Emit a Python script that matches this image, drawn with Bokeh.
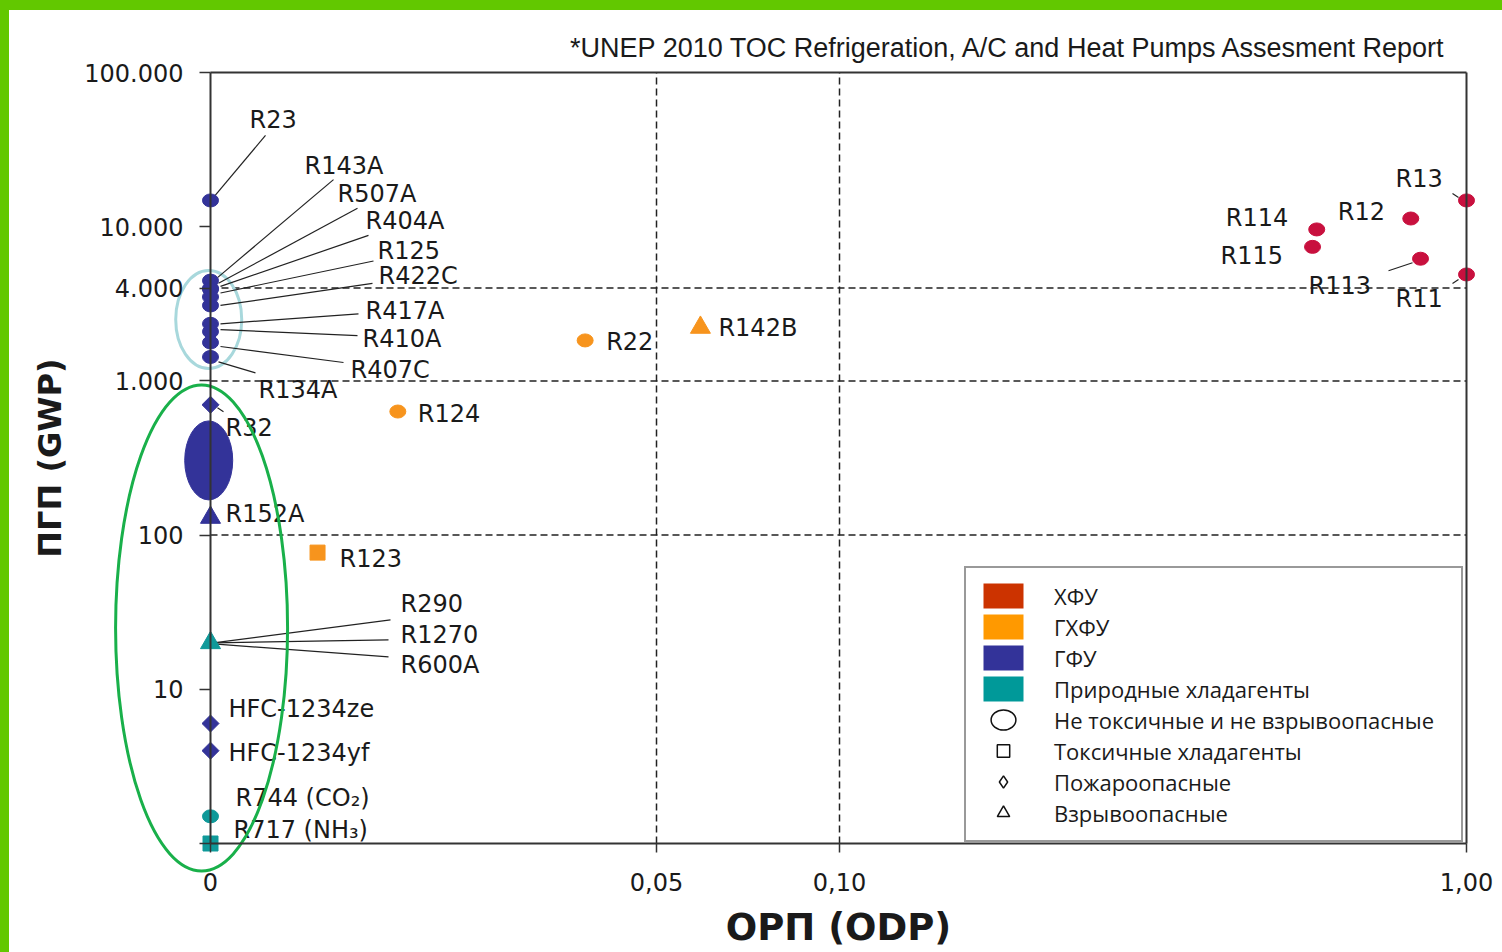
import numpy as np
import pandas as pd
from bokeh.plotting import figure
from bokeh.models import (ColumnDataSource, Range1d, FixedTicker, CustomJSTickFormatter,
                          LinearAxis, LogAxis, Legend, LegendItem, GlobalInlineStyleSheet)
from bokeh.core.properties import value
from bokeh.embed import file_html
from bokeh.resources import INLINE

# ---------------------------------------------------------------- data
NAMES = ["R23", "R143A", "R507A", "R404A", "R125", "R422C", "R417A", "R410A", "R407C", "R134A",
         "R32", "R152A", "HFC-1234ze", "HFC-1234yf",
         "R290/R1270/R600A", "R744", "R717",
         "R22", "R142B", "R124", "R123",
         "R13", "R12", "R114", "R115", "R113", "R11"]
ODP = [0, 0, 0, 0, 0, 0, 0, 0, 0, 0,
       0, 0, 0, 0,
       0, 0, 0,
       0.042, 0.062, 0.021, 0.012,
       1.0, 0.92, 0.785, 0.779, 0.934, 1.0]
GWP = [14800, 4470, 3985, 3922, 3500, 3085, 2346, 2088, 1774, 1430,
       700, 130, 6, 4,
       20, 1.5, 1,
       1830, 2220, 633, 77,
       14800, 11300, 9600, 7400, 6200, 4900]
GROUP = ["ГФУ", "ГФУ", "ГФУ", "ГФУ", "ГФУ", "ГФУ", "ГФУ", "ГФУ", "ГФУ", "ГФУ",
         "ГФУ", "ГФУ", "ГФУ", "ГФУ",
         "Природные хладагенты", "Природные хладагенты", "Природные хладагенты",
         "ГХФУ", "ГХФУ", "ГХФУ", "ГХФУ",
         "ХФУ", "ХФУ", "ХФУ", "ХФУ", "ХФУ", "ХФУ"]
HAZARD = ["circle", "circle", "circle", "circle", "circle", "circle", "circle", "circle", "circle", "circle",
          "diamond", "triangle", "diamond", "diamond",
          "triangle", "circle", "square",
          "circle", "triangle", "circle", "square",
          "circle", "circle", "circle", "circle", "circle", "circle"]

# HFC blends blob and highlight ellipses (ODP, GWP of centre)
BLOB_ODP, BLOB_GWP = [-0.0002], [305]
HL_BLUE_ODP, HL_BLUE_GWP = [-0.0002], [2500]
HL_GREEN_ODP, HL_GREEN_GWP = [-0.001], [25]

LEGEND_GROUPS = ["ХФУ", "ГХФУ", "ГФУ", "Природные хладагенты"]
LEGEND_HAZARDS = ["Не токсичные и не взрывоопасные", "Токсичные хладагенты",
                  "Пожароопасные", "Взрывоопасные"]

X_TICKS = [0, 0.05, 0.10, 1.00]
X_TICK_LABELS = ["0", "0,05", "0,10", "1,00"]
Y_TICKS = [1, 10, 100, 1000, 4000, 10000, 100000]
Y_TICK_LABELS = ["", "10", "100", "1.000", "4.000", "10.000", "100.000"]
GRID_X = [0.05, 0.10]
GRID_Y = [100, 1000, 4000]

# labels: text, refrigerant it belongs to
LABEL_TEXT = ["R23", "R143A", "R507A", "R404A", "R125", "R422C", "R417A", "R410A", "R407C", "R134A",
              "R32", "R152A", "HFC-1234ze", "HFC-1234yf",
              "R290", "R1270", "R600A", "R744 (CO₂)", "R717 (NH₃)",
              "R22", "R142B", "R124", "R123",
              "R13", "R12", "R114", "R115", "R113", "R11"]
LABEL_OF = ["R23", "R143A", "R507A", "R404A", "R125", "R422C", "R417A", "R410A", "R407C", "R134A",
            "R32", "R152A", "HFC-1234ze", "HFC-1234yf",
            "R290/R1270/R600A", "R290/R1270/R600A", "R290/R1270/R600A", "R744", "R717",
            "R22", "R142B", "R124", "R123",
            "R13", "R12", "R114", "R115", "R113", "R11"]

# ---------------------------------------------------------------- styling / layout
# label placement (screen px offsets from the marker: left edge, vertical centre)
LABEL_OFFSET = {
    "R23": (39, -80), "R143A": (94, -115), "R507A": (127, -94), "R404A": (155, -68),
    "R125": (167, -46), "R422C": (168, -29), "R417A": (155, -13), "R410A": (152, 7),
    "R407C": (140, 27), "R134A": (48, 33), "R32": (15, 23), "R152A": (15, -4),
    "HFC-1234ze": (18, -15), "HFC-1234yf": (18, 2),
    "R290": (190, -39), "R1270": (190, -8), "R600A": (190, 22),
    "R744 (CO₂)": (25, -18), "R717 (NH₃)": (23, -14),
    "R22": (21, 2), "R142B": (18, 1), "R124": (20, 2), "R123": (22, 6),
    "R13": (-71, -21), "R12": (-73, -7), "R114": (-91, -11), "R115": (-92, 9),
    "R113": (-112, 27), "R11": (-71, 25),
}
# leader lines (screen px offsets from the marker: start, end)
LEADERS = {
    "R23": (3, -3, 55, -65), "R143A": (7, -3, 123, -101), "R507A": (8, -5, 147, -80),
    "R404A": (10, -3, 158, -54), "R125": (10, -4, 163, -36), "R422C": (10, 0, 162, -22),
    "R417A": (10, 0, 148, -10), "R410A": (10, -2, 147, 4), "R407C": (10, 4, 133, 20),
    "R134A": (8, 5, 45, 16), "R32": (7, 3, 13, 7),
    "R290": (3, 0, 180, -23), "R1270": (3, 0, 178, -3), "R600A": (3, 1, 178, 14),
    "R13": (-14, -7, -8, -3), "R113": (-32, 12, -8, 4), "R11": (-14, 9, -8, 5),
}

POINT_COLORS = {"ХФУ": "#c8103e", "ГХФУ": "#f7941d", "ГФУ": "#333399", "Природные хладагенты": "#0f9999"}
LEGEND_COLORS = {"ХФУ": "#cc3300", "ГХФУ": "#ff9900", "ГФУ": "#333399", "Природные хладагенты": "#009999"}

FIG_W, FIG_H = 1493, 942
FRAME_L, FRAME_R, FRAME_T, FRAME_B = 0, 1487, 46, 942
AXIS_X0_PX, AXIS_X1_PX = 201, 1457
AXIS_YLO_PX, AXIS_YHI_PX = 833, 62
PX_PER_X = AXIS_X1_PX - AXIS_X0_PX
PX_PER_DEC = (AXIS_YLO_PX - AXIS_YHI_PX) / 5.0
X_TICK_POS = [0.0, 0.3551, 0.5008, 1.0]   # broken ODP scale: position of each tick on the axis
LEGEND_BOX = (955, 110)                    # legend bottom-left, px from the frame's bottom-left


def odp_to_pos(v):
    v = np.asarray(v, dtype=float)
    out = np.interp(v, X_TICKS, X_TICK_POS)
    low = v < X_TICKS[0]
    slope = (X_TICK_POS[1] - X_TICK_POS[0]) / (X_TICKS[1] - X_TICKS[0])
    return np.where(low, X_TICK_POS[0] + (v - X_TICKS[0]) * slope, out)


def shift(xp, yv, dx, dy):
    return xp + dx / PX_PER_X, yv * 10 ** (-dy / PX_PER_DEC)


LABEL_FONT = value("DejaVu Sans")
TXT = "#1a1a1a"

p = figure(width=FIG_W, height=FIG_H, y_axis_type="log",
           x_range=Range1d((FRAME_L - AXIS_X0_PX) / PX_PER_X, 1 + (FRAME_R - AXIS_X1_PX) / PX_PER_X),
           y_range=Range1d(10 ** (-(FRAME_B - AXIS_YLO_PX) / PX_PER_DEC),
                           10 ** (5 + (AXIS_YHI_PX - FRAME_T) / PX_PER_DEC)),
           output_backend="svg", toolbar_location=None,
           min_border_left=FRAME_L, min_border_right=FIG_W - FRAME_R,
           min_border_top=FRAME_T, min_border_bottom=FIG_H - FRAME_B)
p.stylesheets = [GlobalInlineStyleSheet(css=(
    "html,body{margin:0;padding:0;background:#ffffff;}"
    "body{border-top:10px solid #62c800;border-left:9px solid #62c800;}"))]
p.outline_line_color = None
p.xgrid.visible = False
p.ygrid.visible = False
p.background_fill_color = "white"
p.border_fill_color = "white"

fmt_code = """
for (let i = 0; i < tv.length; i++) {
  if (Math.abs(tv[i] - tick) <= 1e-9 + 1e-6 * Math.abs(tv[i])) return tl[i];
}
return "";
"""

# x axis (drawn at GWP = 1)
xa = p.xaxis[0]
xa.fixed_location = Y_TICKS[0]
xa.bounds = (X_TICK_POS[0], X_TICK_POS[-1])
xa.ticker = FixedTicker(ticks=X_TICK_POS)
xa.formatter = CustomJSTickFormatter(args=dict(tv=X_TICK_POS, tl=X_TICK_LABELS), code=fmt_code)
xa.axis_label = "ОРП (ODP)"
xa.axis_label_text_font = "DejaVu Sans"
xa.axis_label_text_font_style = "bold"
xa.axis_label_text_font_size = "37px"
xa.axis_label_text_color = TXT
xa.axis_label_standoff = 12
xa.major_label_standoff = 20

# y axis (drawn at ODP = 0)
ya = p.yaxis[0]
ya.fixed_location = X_TICK_POS[0]
ya.bounds = (Y_TICKS[0], Y_TICKS[-1])
ya.ticker = FixedTicker(ticks=Y_TICKS)
ya.formatter = CustomJSTickFormatter(args=dict(tv=Y_TICKS, tl=Y_TICK_LABELS), code=fmt_code)
ya.axis_label = "ПГП (GWP)"
ya.axis_label_text_font = "DejaVu Sans"
ya.axis_label_text_font_style = "bold"
ya.axis_label_text_font_size = "32px"
ya.axis_label_text_color = TXT
ya.axis_label_standoff = 12
ya.major_label_standoff = 16

for ax in (xa, ya):
    ax.axis_line_color = "#333333"
    ax.axis_line_width = 2
    ax.major_tick_line_color = "#333333"
    ax.major_tick_line_width = 1.5
    ax.major_tick_in = 0
    ax.minor_tick_line_color = None
    ax.major_label_text_font = "DejaVu Sans"
    ax.major_label_text_font_size = "24px"
    ax.major_label_text_color = TXT
xa.major_tick_out = 9
ya.major_tick_out = 11

# box lines on top and right
top_ax = LinearAxis(fixed_location=Y_TICKS[-1], bounds=(X_TICK_POS[0], X_TICK_POS[-1]),
                    ticker=FixedTicker(ticks=[]), axis_line_color="#333333", axis_line_width=2,
                    major_tick_line_color=None, minor_tick_line_color=None,
                    major_label_text_font_size="0px")
right_ax = LogAxis(fixed_location=X_TICK_POS[-1], bounds=(Y_TICKS[0], Y_TICKS[-1]),
                   ticker=FixedTicker(ticks=[]), axis_line_color="#333333", axis_line_width=2,
                   major_tick_line_color=None, minor_tick_line_color=None,
                   major_label_text_font_size="0px")
p.add_layout(top_ax, "above")
p.add_layout(right_ax, "right")

# title (source note)
p.title.text = "*UNEP 2010 TOC Refrigeration, A/C and Heat Pumps Assesment Report"
p.title.align = "right"
p.title.text_font = "Liberation Sans"
p.title.text_font_style = "normal"
p.title.text_font_size = "27px"
p.title.text_color = TXT
p.title.standoff = -12
p.title.offset = 49

# dashed reference lines
p.segment(x0=[X_TICK_POS[0]] * len(GRID_Y), x1=[X_TICK_POS[-1]] * len(GRID_Y), y0=GRID_Y, y1=GRID_Y,
          line_color="#222222", line_width=1.5, line_dash="7 4")
gx = odp_to_pos(GRID_X)
p.segment(x0=gx, x1=gx, y0=[Y_TICKS[0]] * len(GRID_X), y1=[Y_TICKS[-1]] * len(GRID_X),
          line_color="#222222", line_width=1.5, line_dash="7 4")

# ---------------------------------------------------------------- points
df = pd.DataFrame(dict(name=NAMES, odp=ODP, gwp=GWP, group=GROUP, hazard=HAZARD))
df["xp"] = odp_to_pos(df["odp"])
df["color"] = df["group"].map(POINT_COLORS)
pos = {n: (x, y) for n, x, y in zip(df["name"], df["xp"], df["gwp"])}

# light-blue highlight around HFC blends and the HFC blob
p.ellipse(x=odp_to_pos(HL_BLUE_ODP), y=HL_BLUE_GWP, width=66, height=98,
          width_units="screen", height_units="screen",
          fill_color=None, line_color="#a8d8dc", line_width=3)
p.ellipse(x=odp_to_pos(BLOB_ODP), y=BLOB_GWP, width=48, height=79,
          width_units="screen", height_units="screen",
          fill_color="#333399", line_color="#333399")

# leader lines
lx0, ly0, lx1, ly1 = [], [], [], []
for t, of in zip(LABEL_TEXT, LABEL_OF):
    if t in LEADERS:
        x, y = pos[of]
        a, b, c, d = LEADERS[t]
        xs0, ys0 = shift(x, y, a, b)
        xs1, ys1 = shift(x, y, c, d)
        lx0.append(xs0); ly0.append(ys0); lx1.append(xs1); ly1.append(ys1)
p.segment(x0=lx0, y0=ly0, x1=lx1, y1=ly1, line_color="#222222", line_width=1.2)

src_c = ColumnDataSource(df[df.hazard == "circle"])
src_s = ColumnDataSource(df[df.hazard == "square"])
src_d = ColumnDataSource(df[df.hazard == "diamond"])
src_t = ColumnDataSource(df[df.hazard == "triangle"])
p.ellipse(x="xp", y="gwp", width=16, height=13, width_units="screen", height_units="screen",
          fill_color="color", line_color="color", source=src_c)
p.scatter(x="xp", y="gwp", marker="square", size=15, fill_color="color", line_color="color", source=src_s)
p.scatter(x="xp", y="gwp", marker="square", size=12, angle=np.pi / 4,
          fill_color="color", line_color="color", source=src_d)
p.scatter(x="xp", y="gwp", marker="triangle", size=20, fill_color="color", line_color="color", source=src_t)

# labels
tx, ty = [], []
for t, of in zip(LABEL_TEXT, LABEL_OF):
    x, y = pos[of]
    dx, dy = LABEL_OFFSET[t]
    a, b = shift(x, y, dx, dy)
    tx.append(a); ty.append(b)
p.text(x=tx, y=ty, text=LABEL_TEXT, text_font=LABEL_FONT, text_font_size="24px",
       text_color=TXT, text_align="left", text_baseline="middle")

# green highlight around low-GWP refrigerants
p.ellipse(x=odp_to_pos(HL_GREEN_ODP), y=HL_GREEN_GWP, width=172, height=486,
          width_units="screen", height_units="screen",
          fill_color=None, line_color="#19b04a", line_width=3)

# ---------------------------------------------------------------- legend
NAN = [np.nan]
items = []
for g in LEGEND_GROUPS:
    r = p.quad(left=NAN, right=NAN, top=NAN, bottom=NAN, fill_color=LEGEND_COLORS[g], line_color=None)
    items.append(LegendItem(label=g, renderers=[r], index=0))
r_c = p.ellipse(x=NAN, y=NAN, width=32, height=26, width_units="screen", height_units="screen",
                fill_color="white", line_color="#111111", line_width=1.5)
items.append(LegendItem(label=LEGEND_HAZARDS[0], renderers=[r_c], index=0))
for m, lab in zip(["square", "diamond", "triangle"], LEGEND_HAZARDS[1:]):
    r = p.scatter(x=NAN, y=NAN, marker=m, size=14, fill_color="white", line_color="#111111", line_width=1.5)
    items.append(LegendItem(label=lab, renderers=[r], index=0))

legend = Legend(items=items, location=LEGEND_BOX, padding=12, spacing=0,
                glyph_width=50, glyph_height=31, label_standoff=26, label_width=395,
                label_text_font="Open Sans", label_text_font_size="22px", label_text_color=TXT,
                border_line_color="#333333", border_line_width=2.5,
                background_fill_color="white", background_fill_alpha=1.0)
p.add_layout(legend)

open("out.html", "w").write(file_html(p, INLINE))
